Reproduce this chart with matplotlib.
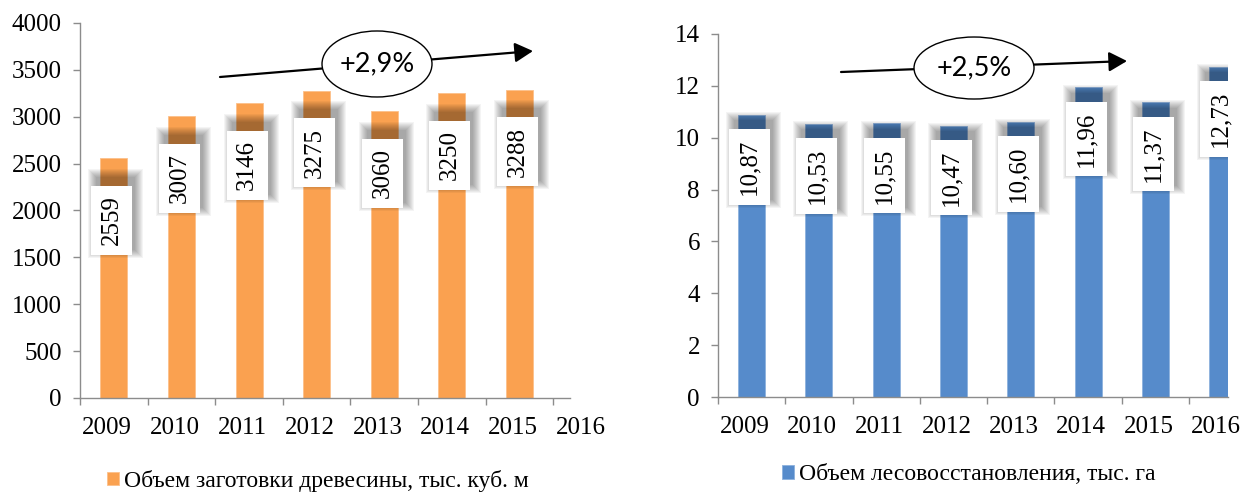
import numpy as np
import matplotlib.pyplot as plt
from matplotlib.patches import Ellipse, Rectangle
from matplotlib.transforms import IdentityTransform

plt.rcParams['font.family'] = ['Liberation Serif', 'DejaVu Serif']

years = ['2009', '2010', '2011', '2012', '2013', '2014', '2015', '2016']
harvest = [2559, 3007, 3146, 3275, 3060, 3250, 3288]
reforest = [10.87, 10.53, 10.55, 10.47, 10.60, 11.96, 11.37, 12.73]
harvest_growth = '+2,9%'
reforest_growth = '+2,5%'
harvest_label = 'Объем заготовки древесины, тыс. куб. м'
reforest_label = 'Объем лесовосстановления, тыс. га'

orange = '#FAA150'
blue = '#568BCB'
grey = '#8C8C8C'
fs = 18

fig = plt.figure(figsize=(12.4, 4.93), dpi=100)
ax1 = fig.add_axes([80 / 1240, 95 / 493, 541 / 1240, 375 / 493])
ax2 = fig.add_axes([718 / 1240, 96 / 493, 510 / 1240, 363 / 493])


def setup(ax, xmax, ymax, ystep, xend):
    ax.set_xlim(-0.5, xmax)
    ax.set_ylim(0, ymax)
    ax.set_yticks(np.arange(0, ymax + ystep / 2, ystep))
    ax.set_xticks(np.arange(len(years)) - 0.1)
    ax.set_xticklabels(years)
    ax.set_xticks(np.arange(-0.5, 7, 1.0), minor=True)
    for s in ['top', 'right']:
        ax.spines[s].set_visible(False)
    for s in ['left', 'bottom']:
        ax.spines[s].set_color(grey)
        ax.spines[s].set_linewidth(1)
    ax.spines['bottom'].set_bounds(-0.5, xend)
    ax.tick_params(axis='y', length=5, width=1, color=grey, pad=8, labelsize=fs)
    ax.tick_params(axis='x', which='major', length=0, pad=14, labelsize=fs)
    ax.tick_params(axis='x', which='minor', length=5, width=1, color=grey)


def value_labels(ax, values, drop):
    out = []
    for i, v in enumerate(values):
        if isinstance(v, float):
            txt = ('%.2f' % v).replace('.', ',')
        else:
            txt = str(v)
        a = ax.annotate(txt, xy=(i, v), xytext=(-2, -drop), textcoords='offset pixels',
                        rotation=90, ha='center', va='center', fontsize=fs, zorder=5,
                        bbox=dict(boxstyle='square,pad=0.38', fc='white', ec='none'))
        a.set_clip_on(True)
        out.append(a)
    return out


def growth_mark(ax, start, end, centre, w, h, text):
    ax.annotate('', xy=end, xytext=start, xycoords='axes fraction',
                arrowprops=dict(arrowstyle='-|>,head_length=0.55,head_width=0.3',
                                mutation_scale=20, lw=1.6, color='black',
                                shrinkA=0, shrinkB=0), zorder=6)
    ax.add_patch(Ellipse(centre, w, h, transform=ax.transAxes, fc='white',
                         ec='black', lw=1.0, zorder=7, clip_on=False))
    ax.text(centre[0], centre[1], text, transform=ax.transAxes, ha='center',
            va='center', fontsize=19.5, family=['Lato', 'DejaVu Sans'], zorder=8)


# left: timber harvesting
setup(ax1, 7.5, 4000, 500, 6.75)
bars1 = ax1.bar(range(len(harvest)), harvest, width=0.4, color=orange,
                edgecolor='#FCC08A', lw=0.6, zorder=2)
labels1 = value_labels(ax1, harvest, 62)
growth_mark(ax1, (0.2588, 0.856), (0.8373, 0.9253), (0.549, 0.8907), 0.2033, 0.176,
            harvest_growth)

# right: reforestation
setup(ax2, 7.08, 14, 2, 7.08)
bars2 = ax2.bar(range(len(reforest)), reforest, width=0.4, color=blue,
                edgecolor='#8DB1DD', lw=0.6, zorder=2)
labels2 = value_labels(ax2, reforest, 52)
growth_mark(ax2, (0.2412, 0.8953), (0.802, 0.9256), (0.502, 0.9063), 0.2353, 0.1708,
            reforest_growth)

fig.legend(handles=[bars1], labels=[harvest_label], loc='center left',
           bbox_to_anchor=(107 / 1240, 12 / 493), frameon=False, fontsize=17,
           handlelength=0.5, handleheight=0.5, handletextpad=0.2, borderpad=0,
           borderaxespad=0)
fig.legend(handles=[bars2], labels=[reforest_label], loc='center left',
           bbox_to_anchor=(782 / 1240, 18 / 493), frameon=False, fontsize=17,
           handlelength=0.5, handleheight=0.5, handletextpad=0.2, borderpad=0,
           borderaxespad=0)

# soft shadows behind the value boxes, cast up and to the right
fig.canvas.draw()
renderer = fig.canvas.get_renderer()
for ax, labels in [(ax1, labels1), (ax2, labels2)]:
    for a in labels:
        bb = a.get_bbox_patch().get_window_extent(renderer)
        x0, y0 = bb.x0 + 6, bb.y0 + 6
        w, h = bb.width - 4, bb.height + 2
        blur = 9
        for k in range(blur, 0, -1):
            r = Rectangle((x0 - k, y0 - k), w + 2 * k, h + 2 * k,
                          transform=IdentityTransform(), fc='black', ec='none',
                          alpha=0.045, zorder=4)
            ax.add_patch(r)

fig.savefig('out.png', dpi=100)
